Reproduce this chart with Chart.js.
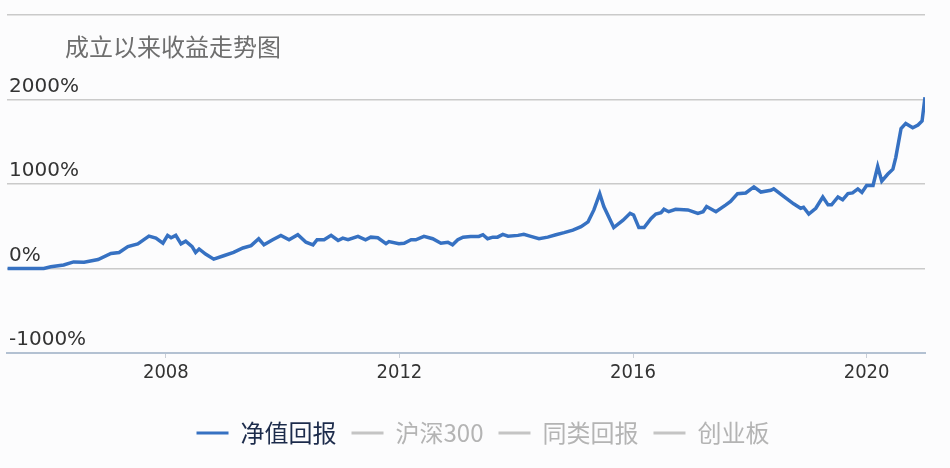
<!DOCTYPE html>
<html>
<head>
<meta charset="utf-8">
<script src="https://cdn.jsdelivr.net/npm/chart.js@4/dist/chart.umd.min.js"></script>
<style>
html,body{margin:0;padding:0;background:#fcfcfd;}
canvas{display:block;}
</style>
</head>
<body>
<canvas id="c" width="950" height="468"></canvas>
<script>
const titleText = '成立以来收益走势图';
const seriesNames = ['净值回报', '沪深300', '同类回报', '创业板'];
const xTicks = [2008, 2012, 2016, 2020];
const yTicks = [-1000, 0, 1000, 2000, 3000];
const years = [2005.29,2005.91,2006.03,2006.25,2006.42,2006.60,2006.84,2007.06,2007.20,2007.35,2007.52,2007.71,2007.83,2007.95,2008.03,2008.09,2008.17,2008.26,2008.34,2008.45,2008.51,2008.57,2008.68,2008.82,2008.99,2009.16,2009.32,2009.46,2009.59,2009.68,2009.83,2009.97,2010.11,2010.26,2010.40,2010.52,2010.59,2010.71,2010.83,2010.95,2011.03,2011.12,2011.29,2011.42,2011.51,2011.63,2011.77,2011.82,2011.99,2012.08,2012.20,2012.28,2012.42,2012.57,2012.71,2012.83,2012.91,2013.00,2013.09,2013.22,2013.36,2013.43,2013.51,2013.60,2013.68,2013.77,2013.86,2014.03,2014.13,2014.25,2014.39,2014.54,2014.68,2014.82,2014.97,2015.11,2015.23,2015.33,2015.43,2015.50,2015.67,2015.83,2015.95,2016.01,2016.10,2016.19,2016.31,2016.39,2016.48,2016.53,2016.61,2016.73,2016.94,2017.11,2017.20,2017.26,2017.42,2017.59,2017.67,2017.79,2017.93,2018.07,2018.19,2018.36,2018.41,2018.58,2018.75,2018.87,2018.92,2019.01,2019.13,2019.25,2019.34,2019.40,2019.51,2019.59,2019.68,2019.76,2019.85,2019.92,2020.00,2020.11,2020.19,2020.26,2020.36,2020.45,2020.50,2020.59,2020.67,2020.79,2020.88,2020.95,2021.00];
const navReturn = [0,0,20,42,78,75,106,178,190,259,292,383,359,299,392,364,392,292,323,260,190,231,171,111,151,190,243,271,352,280,340,392,340,400,311,280,340,340,392,331,359,340,380,340,371,364,295,319,292,299,340,340,380,352,299,311,280,340,371,380,380,400,352,371,371,404,383,392,404,380,352,371,400,424,455,495,552,693,886,733,484,572,653,633,484,484,593,645,660,701,672,701,693,653,672,733,672,753,793,886,894,966,905,925,942,853,765,713,725,645,713,846,753,753,846,813,886,894,942,901,982,982,1207,1034,1115,1175,1316,1657,1717,1665,1697,1745,2027];
const hs300 = [];
const peerReturn = [];
const chinext = [];

const lineColor = '#3671c2';
const mutedColor = '#c4c4c4';
const legendTextColors = ['#1c2b4b', '#b4b4b4', '#b4b4b4', '#b4b4b4'];

const toPts = (xs, ys) => ys.map((v, i) => ({x: xs[i], y: v}));

const titlePlugin = {
  id: 'titleText',
  afterLayout(chart) {
    if (chart.legend) { chart.legend.left += 17; chart.legend.right += 17; }
  },
  afterDraw(chart) {
    const ctx = chart.ctx;
    ctx.save();
    ctx.font = '24px "Noto Sans CJK SC", sans-serif';
    ctx.fillStyle = '#6e6e6e';
    ctx.textBaseline = 'middle';
    ctx.textAlign = 'left';
    ctx.fillText(titleText, 65, 47);
    ctx.restore();
  }
};

new Chart(document.getElementById('c'), {
  type: 'line',
  data: {
    datasets: [
      {label: seriesNames[0], data: toPts(years, navReturn), borderColor: lineColor, borderWidth: 3.5, pointRadius: 0, tension: 0, fill: false},
      {label: seriesNames[1], data: hs300, borderColor: mutedColor, borderWidth: 3, pointRadius: 0},
      {label: seriesNames[2], data: peerReturn, borderColor: mutedColor, borderWidth: 3, pointRadius: 0},
      {label: seriesNames[3], data: chinext, borderColor: mutedColor, borderWidth: 3, pointRadius: 0}
    ]
  },
  options: {
    responsive: false,
    animation: false,
    layout: {padding: {left: 7, right: 25, top: 15, bottom: 13}},
    scales: {
      x: {
        type: 'linear',
        min: 2005.28,
        max: 2021.0,
        afterBuildTicks(scale) { scale.ticks = xTicks.map(v => ({value: v})); },
        afterFit(scale) { scale.height += 18; },
        ticks: {
          callback: v => String(v),
          color: '#333',
          font: {size: 20, family: '"DejaVu Sans Condensed", "Liberation Sans Narrow", sans-serif'},
          padding: 3,
          maxRotation: 0
        },
        grid: {drawOnChartArea: false, drawTicks: true, tickLength: 5, color: '#c9ced6'},
        border: {display: true, color: '#b3c1d2', width: 2}
      },
      y: {
        min: -1000,
        max: 3000,
        afterBuildTicks(scale) { scale.ticks = yTicks.map(v => ({value: v})); },
        afterFit(scale) { scale.width = 0; },
        ticks: {
          mirror: true,
          padding: 2,
          labelOffset: -13,
          color: '#333',
          font: {size: 20, family: '"DejaVu Sans", sans-serif'},
          callback: v => (v === 3000 ? '' : v + '%')
        },
        grid: {color: '#cacaca', lineWidth: 1.5, drawTicks: false},
        border: {display: false}
      }
    },
    plugins: {
      tooltip: {enabled: false},
      legend: {
        position: 'bottom',
        onClick: null,
        labels: {
          usePointStyle: true,
          pointStyleWidth: 32,
          boxHeight: 24,
          padding: 15,
          font: {size: 24, family: '"Noto Sans CJK SC", sans-serif'},
          generateLabels(chart) {
            return chart.data.datasets.map((ds, i) => ({
              text: ds.label,
              fillStyle: ds.borderColor,
              strokeStyle: ds.borderColor,
              lineWidth: 3,
              pointStyle: 'line',
              hidden: false,
              fontColor: legendTextColors[i],
              datasetIndex: i
            }));
          }
        }
      }
    }
  },
  plugins: [titlePlugin]
});
</script>
</body>
</html>
